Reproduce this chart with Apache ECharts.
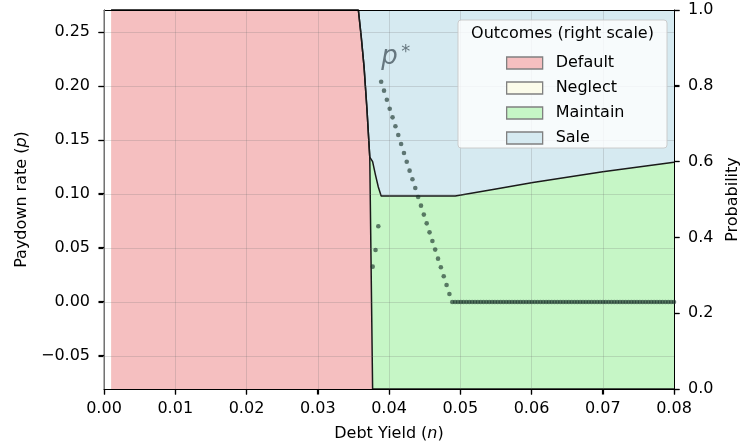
<!DOCTYPE html>
<html>
<head>
<meta charset="utf-8">
<script src="https://cdn.jsdelivr.net/npm/echarts@6/dist/echarts.min.js"></script>
<style>html,body{margin:0;padding:0;background:#fff;}#c{width:740px;height:447px;}</style>
</head>
<body>
<div id="c"></div>
<script>
// ---- data ----
// breakpoints of the stacked outcome areas (debt yield n)
const nKey = [0.001, 0.0357, 0.0361, 0.0365, 0.0369, 0.0373, 0.0377, 0.0381, 0.0385, 0.0389, 0.0493, 0.0550, 0.0602, 0.0700, 0.0800];
const probDefault  = [1, 1, 0.93, 0.85, 0.74, 0.612, 0, 0, 0, 0, 0, 0, 0, 0, 0];
const probNeglect  = [0, 0, 0, 0, 0, 0, 0, 0, 0, 0, 0, 0, 0, 0, 0];
const probMaintain = [0, 0, 0, 0, 0, 0, 0.600, 0.565, 0.533, 0.509, 0.509, 0.528, 0.545, 0.573, 0.598];
const probSale     = [0, 0, 0.07, 0.15, 0.26, 0.388, 0.400, 0.435, 0.467, 0.491, 0.491, 0.472, 0.455, 0.427, 0.402];

// optimal paydown rate p* (left scale)
const pStarN = [0.03771, 0.03811, 0.03850, 0.03890, 0.03930, 0.03970, 0.04010, 0.04050, 0.04090, 0.04130,
  0.04170, 0.04210, 0.04249, 0.04289, 0.04329, 0.04369, 0.04409, 0.04449, 0.04489, 0.04529,
  0.04569, 0.04609, 0.04648, 0.04688, 0.04728, 0.04768, 0.04808, 0.04848];
const pStar = [0.0327, 0.0481, 0.0701, 0.2040, 0.1957, 0.1873, 0.1790, 0.1710, 0.1627, 0.1546,
  0.1463, 0.1380, 0.1299, 0.1216, 0.1136, 0.1056, 0.0972, 0.0892, 0.0809, 0.0728,
  0.0645, 0.0565, 0.0485, 0.0401, 0.0321, 0.0238, 0.0157, 0.0074];
const pStarFlatN = [0.04888, 0.04928, 0.04968, 0.05008, 0.05047, 0.05087, 0.05127, 0.05167, 0.05207, 0.05247,
  0.05287, 0.05327, 0.05367, 0.05407, 0.05447, 0.05486, 0.05526, 0.05566, 0.05606, 0.05646,
  0.05686, 0.05726, 0.05766, 0.05806, 0.05845, 0.05885, 0.05925, 0.05965, 0.06005, 0.06045,
  0.06085, 0.06125, 0.06165, 0.06205, 0.06244, 0.06284, 0.06324, 0.06364, 0.06404, 0.06444,
  0.06484, 0.06524, 0.06564, 0.06604, 0.06643, 0.06683, 0.06723, 0.06763, 0.06803, 0.06843,
  0.06883, 0.06923, 0.06963, 0.07003, 0.07042, 0.07082, 0.07122, 0.07162, 0.07202, 0.07242,
  0.07282, 0.07322, 0.07362, 0.07402, 0.07441, 0.07481, 0.07521, 0.07561, 0.07601, 0.07641,
  0.07681, 0.07721, 0.07761, 0.07801, 0.07840, 0.07880, 0.07920, 0.07960, 0.08000];
const pStarFlat = [0,0,0,0,0,0,0,0,0,0, 0,0,0,0,0,0,0,0,0,0, 0,0,0,0,0,0,0,0,0,0,
  0,0,0,0,0,0,0,0,0,0, 0,0,0,0,0,0,0,0,0,0, 0,0,0,0,0,0,0,0,0,0,
  0,0,0,0,0,0,0,0,0,0, 0,0,0,0,0,0,0,0,0];
const pStarLabelAt = [0.03897, 0.2185];

const seriesNames = ['Default', 'Neglect', 'Maintain', 'Sale'];
const xTicks = [0, 0.01, 0.02, 0.03, 0.04, 0.05, 0.06, 0.07, 0.08];
const leftTicks = [-0.05, 0, 0.05, 0.10, 0.15, 0.20, 0.25];
const rightTicks = [0, 0.2, 0.4, 0.6, 0.8, 1.0];

// ---- styles ----
const FONT = '"DejaVu Sans", sans-serif';
const colors = {Default: '#f5bfc0', Neglect: '#fbfbea', Maintain: '#c6f6c6', Sale: '#d6eaf1'};
const edge = '#1a1a1a';
const gridColor = 'rgba(110,110,110,0.22)';

const zip = (xs, ys) => xs.map((x, i) => [x, ys[i]]);
const probs = {Default: probDefault, Neglect: probNeglect, Maintain: probMaintain, Sale: probSale};

// cumulative (stacked) tops, built from the arrays above
const cum = {};
let run = nKey.map(() => 0);
seriesNames.forEach(name => {
  run = run.map((v, i) => v + probs[name][i]);
  cum[name] = run.slice();
});

// draw from the top band down so each lower band covers the part below it
const areaSeries = seriesNames.slice().reverse().map(name => ({
  name, type: 'line', yAxisIndex: 1, z: 1,
  data: zip(nKey, cum[name]),
  symbol: 'none', showSymbol: false, smooth: false,
  itemStyle: {color: colors[name]},
  lineStyle: (name === 'Default' || name === 'Maintain') ? {color: edge, width: 1.5} : {width: 0, color: colors[name]},
  areaStyle: {color: colors[name], opacity: 1, origin: 'start'},
  emphasis: {disabled: true},
  markLine: name === 'Default' ? {
    silent: true, symbol: 'none', label: {show: false},
    lineStyle: {color: '#9a9a9a', width: 1.5, type: 'solid'},
    data: [{xAxis: nKey[0]}]
  } : undefined
}));

const dotStyle = {color: 'rgba(25,50,42,0.8)'};
const chart = echarts.init(document.getElementById('c'), null, {renderer: 'canvas'});
const axisTxt = {fontFamily: FONT, fontSize: 16, color: '#000'};
const mkTick = () => ({show: true, inside: false, length: 5.5, lineStyle: {color: '#000', width: 1.2}});

chart.setOption({
  animation: false,
  textStyle: {fontFamily: FONT},
  grid: {left: 104, right: 66, top: 10, bottom: 58, containLabel: false, outerBoundsMode: 'none'},
  xAxis: [{
    type: 'value', min: xTicks[0], max: xTicks[xTicks.length - 1], interval: 0.01, z: 3,
    axisLine: {onZero: false, lineStyle: {color: '#000', width: 1}},
    axisTick: mkTick(),
    axisLabel: Object.assign({margin: 12, formatter: v => v.toFixed(2)}, axisTxt),
    splitLine: {show: true, lineStyle: {color: gridColor, width: 1}},
    name: 'Debt Yield ({i|n})', nameLocation: 'middle', nameGap: 37,
    nameTextStyle: Object.assign({rich: {i: {fontStyle: 'italic', fontFamily: FONT, fontSize: 16, color: '#000'}}}, axisTxt)
  }, {
    type: 'value', position: 'top', min: 0, max: 0.08, z: 3,
    axisLine: {onZero: false, lineStyle: {color: '#000', width: 1}},
    axisTick: {show: false}, axisLabel: {show: false}, splitLine: {show: false}
  }],
  yAxis: [{
    type: 'value', position: 'left', min: -0.0806, max: 0.2704, splitNumber: 7, z: 3,
    axisLine: {show: true, onZero: false, lineStyle: {color: '#000', width: 1}},
    axisTick: Object.assign(mkTick(), {customValues: leftTicks}),
    axisLabel: Object.assign({margin: 14, customValues: leftTicks,
      formatter: v => (v < 0 ? '\u2212' : '') + Math.abs(v).toFixed(2)}, axisTxt),
    splitLine: {show: true, lineStyle: {color: gridColor, width: 1}},
    name: 'Paydown rate ({i|p})', nameLocation: 'middle', nameGap: 69,
    nameTextStyle: Object.assign({rich: {i: {fontStyle: 'italic', fontFamily: FONT, fontSize: 16, color: '#000'}}}, axisTxt)
  }, {
    type: 'value', position: 'right', min: rightTicks[0], max: rightTicks[rightTicks.length - 1], interval: 0.2, z: 3,
    axisLine: {show: true, onZero: false, lineStyle: {color: '#000', width: 1}},
    axisTick: mkTick(),
    axisLabel: Object.assign({margin: 14, formatter: v => v.toFixed(1)}, axisTxt),
    splitLine: {show: false},
    name: 'Probability', nameLocation: 'middle', nameGap: 44,
    nameTextStyle: axisTxt
  }],
  legend: {
    data: seriesNames.map(n => ({name: n, itemStyle: {color: colors[n]}})),
    orient: 'vertical', left: 501, top: 50, itemWidth: 36, itemHeight: 12, itemGap: 9,
    icon: 'rect', selectedMode: false, z: 10,
    itemStyle: {borderColor: '#808080', borderWidth: 1.3},
    textStyle: {fontFamily: FONT, fontSize: 16, color: '#000', padding: [0, 0, 0, 8]}
  },
  series: areaSeries.concat([{
    name: 'p*', type: 'scatter', xAxisIndex: 0, yAxisIndex: 0, z: 4,
    symbol: 'circle', symbolSize: 4.6, itemStyle: dotStyle, emphasis: {disabled: true},
    data: zip(pStarN, pStar).concat(zip(pStarFlatN, pStarFlat))
  }])
});

// outward tick marks, placed through the chart's own axis scales
const px = v => chart.convertToPixel({xAxisIndex: 0}, v);
const pyL = v => chart.convertToPixel({yAxisIndex: 0}, v);
const pyR = v => chart.convertToPixel({yAxisIndex: 1}, v);
const snap = v => Math.round(v - 0.5) + 0.5;
const xL = px(xTicks[0]), xR = px(xTicks[xTicks.length - 1]), yB = pyR(rightTicks[0]);
const ticks = [];
const tickEl = (x1, y1, x2, y2) => ({type: 'line', z: 20, silent: true,
  shape: {x1, y1, x2, y2}, style: {stroke: '#000', lineWidth: 1.2}});
xTicks.forEach(v => { const x = snap(px(v)); ticks.push(tickEl(x, yB, x, yB + 5.5)); });
leftTicks.forEach(v => { const y = snap(pyL(v)); ticks.push(tickEl(xL - 5.5, y, xL, y)); });
rightTicks.forEach(v => { const y = snap(pyR(v)); ticks.push(tickEl(xR, y, xR + 5.5, y)); });

const a = chart.convertToPixel({xAxisIndex: 0, yAxisIndex: 0}, pStarLabelAt);
chart.setOption({
  graphic: [
    {type: 'rect', z: 5, silent: true, shape: {x: 458, y: 20, width: 209, height: 128, r: 3},
     style: {fill: 'rgba(255,255,255,0.8)', stroke: 'rgba(200,200,200,0.9)', lineWidth: 1}},
    {type: 'text', z: 11, silent: true, x: 562.5, y: 34,
     style: {text: 'Outcomes (right scale)', font: '16px ' + FONT, fill: '#000', align: 'center', verticalAlign: 'middle'}},
    {type: 'text', z: 6, silent: true, x: a[0] - 0.5, y: a[1] - 9,
     style: {text: 'p', font: 'italic 26px ' + FONT, fill: '#66777f', align: 'left', verticalAlign: 'middle'}},
    {type: 'text', z: 6, silent: true, x: a[0] + 19.5, y: a[1] - 13.5,
     style: {text: '*', font: '18px ' + FONT, fill: '#66777f', align: 'left', verticalAlign: 'middle'}}
  ].concat(ticks)
});
</script>
</body>
</html>
